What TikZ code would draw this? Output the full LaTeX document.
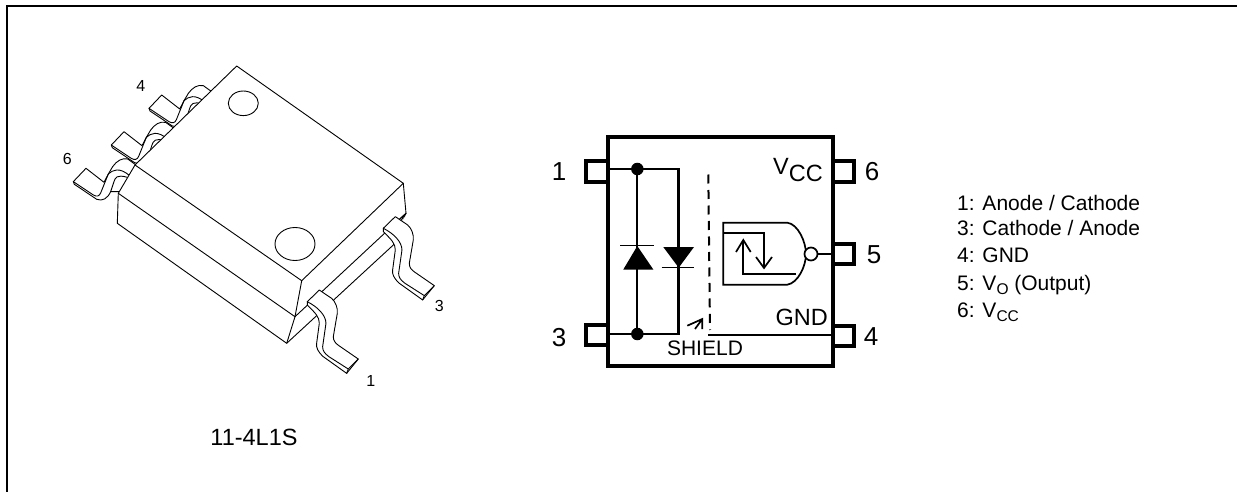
\documentclass[tikz,border=0pt]{standalone}
\usepackage{fontspec}
\setmainfont{Liberation Sans}
\newcommand{\subtxt}[1]{\raisebox{-4pt}{\fontsize{15.5}{15.5}\selectfont #1}}
\tikzset{
 x=1pt,y=-1pt,
 thin line/.style={line width=0.9pt,line join=round,line cap=round},
 wire/.style={line width=2.2pt,line join=miter},
 boxline/.style={line width=4pt},
 pinbox/.style={line width=4pt,fill=white},
 lab/.style={inner sep=0pt,font=\fontsize{16}{16}\selectfont},
 big/.style={inner sep=0pt,font=\fontsize{26}{26}\selectfont},
 list/.style={inner sep=0pt,anchor=base west,font=\fontsize{21}{21}\selectfont},
 dot/.style={circle,fill=black,inner sep=0pt,minimum size=12.5pt},
 pics/frontlead/.style={code={
  \begin{scope}[x=0.3333pt,y=-0.3333pt]
  \draw[thin line,fill=white] (0,0) -- (36,-35) -- (73,-10) .. controls (85,0) and (92,20) .. (90,35)
    -- (78,105) .. controls (78,118) and (85,125) .. (95,132) -- (153,172) -- (118,215)
    -- (48,165) .. controls (32,150) and (26,138) .. (28,125) -- (36,65) .. controls (36,45) and (25,35) .. (0,10) -- cycle;
  \draw[thin line] (0,0) .. controls (30,15) and (56,40) .. (56,65)
    -- (46,135) .. controls (46,148) and (52,155) .. (65,165) -- (123,202) -- (153,172) (123,202) -- (118,215);
  \end{scope}}},
 pics/backlead/.style={code={
  \begin{scope}[x=0.3333pt,y=-0.3333pt]
  \draw[thin line,fill=white] (67,17) -- (80,-5) .. controls (92,-22) and (108,-32) .. (125,-28) -- (150,-10) -- (150,40) -- (120,70) -- (74,70)
     .. controls (65,90) and (50,100) .. (32,93) -- (-35,48) -- (-38,40) -- (0,0) -- (54,42) -- cycle;
  \draw[thin line] (-38,40) -- (22,80) .. controls (32,86) and (40,84) .. (44,74) -- (67,17);
  \draw[thin line] (67,17) .. controls (80,5) and (100,-5) .. (132,23);
  \draw[thin line] (74,70) -- (84,40) .. controls (88,28) and (92,18) .. (124,27);
  \end{scope}}},
}
\begin{document}
\begin{tikzpicture}
\useasboundingbox (0,0) rectangle (1237,492);
\draw[line width=1.6pt] (7,492) -- (7,6) -- (1237,6);
% back leads
\pic at (86,168.3) {backlead};
\pic at (124,131.7) {backlead};
\pic at (161.7,95) {backlead};
% package
\draw[thin line,fill=white] (236.7,66) -- (403.3,183.3) -- (406,213.3) -- (393.3,245) -- (286.7,343.3) -- (117.3,223.3) -- (118.3,193.3) -- (135,165) -- cycle;
\draw[thin line] (135,165) -- (301.7,280.7) -- (403.3,183.3);
\draw[thin line] (301.7,280.7) -- (295,316.7) -- (118.3,193.3);
\draw[thin line] (295,316.7) -- (286.7,343.3);
\draw[thin line] (295,316.7) -- (406,213.3);
\draw[thin line] (243.3,103.3) ellipse (15 and 12.3);
\draw[thin line] (295,244) ellipse (20 and 16.5);
\path[fill=white] (406.5,214) -- (395,246) -- (393,236) -- cycle;
\draw[thin line] (393,225) -- (406,213.3) -- (400,222);
\pic at (307.3,301.7) {frontlead};
\pic at (383.3,228.3) {frontlead};
% part labels
\node[lab] (p4) at (140.7,86) {4};
\node[lab] (p6) at (67.3,159.3) {6};
\node[lab] (p1) at (370.7,381) {1};
\node[lab] (p3) at (439.3,305.7) {3};
\node[inner sep=0pt,font=\fontsize{23.5}{23.5}\selectfont] (pkg) at (254,437) {11-4L1S};
% schematic pins
\draw[pinbox] (585.7,161.5) rectangle (608,182);
\draw[pinbox] (585.7,324.7) rectangle (608,345);
\draw[pinbox] (833,161.5) rectangle (854,182);
\draw[pinbox] (833,243.5) rectangle (854,263.5);
\draw[pinbox] (833,325.5) rectangle (854,345.5);
\draw[boxline] (608.3,137.3) rectangle (832.7,366);
% wires
\draw[wire] (608,169) -- (678.5,169) -- (678.5,334) -- (608,334);
\draw[wire] (637.3,169) -- (637.3,334);
\node[dot] (j1) at (637.3,169) {};
\node[dot] (j3) at (637.3,334) {};
\fill (637.3,246) -- (623.3,269.5) -- (653.3,269.5) -- cycle;
\draw[line width=1.5pt] (620,245.7) -- (653.5,245.7);
\fill (663.3,247) -- (694,247) -- (678.7,267.7) -- cycle;
\draw[line width=1.5pt] (661.7,267.7) -- (694,267.7);
% shield
\draw[line width=2pt,dash pattern=on 9pt off 6.5pt] (708.3,174.5) -- (710,330);
\draw[line width=1.3pt] (708,335) -- (832,335);
\draw[line width=1.7pt] (702.3,329) -- (702.3,319) -- (687.3,325.7) (702.3,319) -- (695,329);
% gate
\draw[line width=1.7pt,line join=miter] (723.3,222.7) -- (787.3,222.7) .. controls (798,224) and (806,242) .. (806,254) .. controls (806,266) and (798,283) .. (787.3,284.7) -- (723.3,284.7) -- cycle;
\draw[line width=1.7pt,fill=white] (811,254) circle (6.5);
\draw[line width=1.3pt] (817.5,254) -- (833,254);
\draw[line width=1.7pt] (723.3,233.3) -- (764,233.3) -- (764,268);
\draw[line width=1.7pt] (756,257) -- (764,268) -- (772,257);
\draw[line width=1.7pt] (796,274) -- (743.3,274) -- (743.3,240);
\draw[line width=1.7pt] (736,252) -- (743.3,240) -- (750.7,252);
% schematic labels
\node[big] (s1) at (559,172) {1};
\node[big] (s3) at (559,338) {3};
\node[big] (s6) at (872,172) {6};
\node[big] (s5) at (874,255) {5};
\node[big] (s4) at (871,337) {4};
\node[inner sep=0pt,font=\fontsize{23.5}{23.5}\selectfont,anchor=base west] (vcc) at (773,175) {V\raisebox{-6.5pt}{CC}};
\node[inner sep=0pt,font=\fontsize{23.5}{23.5}\selectfont,anchor=base east] (gnd) at (828,325) {GND};
\node[inner sep=0pt,font=\fontsize{21}{21}\selectfont] (shield) at (705,348) {SHIELD};
% list
\node[list] (l1) at (957,210.5) {1: Anode / Cathode};
\node[list] (l3) at (957,235.5) {3: Cathode / Anode};
\node[list] (l4) at (957,262.8) {4: GND};
\node[list] (l5) at (957,290.5) {5: V\subtxt{O} (Output)};
\node[list] (l6) at (957,317) {6: V\subtxt{CC}};
\end{tikzpicture}
\end{document}
